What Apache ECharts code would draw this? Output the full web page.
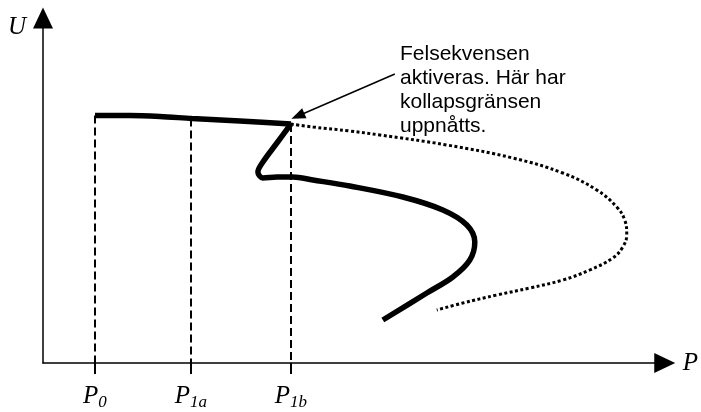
<!DOCTYPE html>
<html>
<head>
<meta charset="utf-8">
<script src="https://cdn.jsdelivr.net/npm/echarts@6/dist/echarts.min.js"></script>
<style>
  html, body { margin: 0; padding: 0; background: #fff; }
  #chart { width: 701px; height: 412px; }
</style>
</head>
<body>
<div id="chart"></div>
<script>
// schematic P-U curve, values in axis units
const pTicks = [52, 148, 248];
const pTickSubs = ['0', '1a', '1b'];
const guideTopU = [247.5, 244.5, 239];

const topBranchP = [52, 87, 117, 149, 197, 248];
const topBranchU = [247.5, 247.5, 246.5, 244.5, 242, 239];

const lowBranchP = [248, 234, 220, 215, 220, 234, 250, 270, 307, 360, 400, 424, 432, 427, 410, 384, 340];
const lowBranchU = [239, 220, 201, 191, 185, 186, 186, 183, 177, 166, 153, 138, 121, 103, 86, 70, 43];

const unstableP = [248, 270, 307, 337, 404, 470, 520, 554, 574, 582, 584, 580, 570, 547, 520, 487, 454, 420, 394];
const unstableU = [239, 236, 232, 228, 218, 205, 190, 173, 156, 143, 128, 116, 105, 93, 83, 75, 68, 60, 53];

const noteLines = ['Felsekvensen', 'aktiveras. Här har', 'kollapsgränsen', 'uppnåtts.'];
const noteFrom = [352, 289];
const noteTo = [255, 247];

const zip = (xs, ys) => xs.map((x, i) => [x, ys[i]]);

const serif = 'Liberation Serif';
const chart = echarts.init(document.getElementById('chart'));

const option = {
  animation: false,
  backgroundColor: '#fff',
  grid: { left: 43, right: 36, top: 18, bottom: 49 },
  xAxis: {
    type: 'value',
    min: 0,
    max: 622,
    name: 'P',
    nameLocation: 'end',
    nameGap: 18,
    nameTextStyle: {
      fontFamily: serif, fontStyle: 'italic', fontSize: 25, color: '#000',
      align: 'left', verticalAlign: 'middle', padding: [10, 0, 0, 0]
    },
    axisLine: {
      show: true,
      symbol: ['none', 'triangle'],
      symbolSize: [20, 21],
      lineStyle: { color: '#000', width: 1.5 }
    },
    axisTick: {
      show: true,
      customValues: pTicks,
      length: 11,
      lineStyle: { color: '#000', width: 2 }
    },
    axisLabel: {
      show: true,
      customValues: pTicks,
      margin: 18,
      formatter: function (v) {
        const i = pTicks.indexOf(v);
        return i < 0 ? '' : '{p|P}{s|' + pTickSubs[i] + '}';
      },
      rich: {
        p: { fontFamily: serif, fontStyle: 'italic', fontSize: 25, lineHeight: 30, color: '#000' },
        s: { fontFamily: serif, fontStyle: 'italic', fontSize: 17, lineHeight: 17, verticalAlign: 'bottom', color: '#000' }
      }
    },
    splitLine: { show: false }
  },
  yAxis: {
    type: 'value',
    min: 0,
    max: 345,
    name: 'U',
    nameLocation: 'end',
    nameGap: -9,
    nameTextStyle: {
      fontFamily: serif, fontStyle: 'italic', fontSize: 25, color: '#000',
      align: 'right', verticalAlign: 'middle', padding: [0, 17, 0, 0]
    },
    axisLine: {
      show: true,
      symbol: ['none', 'triangle'],
      symbolSize: [20, 21],
      lineStyle: { color: '#000', width: 1.5 }
    },
    axisTick: { show: false },
    axisLabel: { show: false },
    splitLine: { show: false }
  },
  series: [
    {
      type: 'line',
      name: 'guides',
      data: [],
      markLine: {
        silent: true,
        symbol: ['none', 'none'],
        label: { show: false },
        lineStyle: { color: '#000', width: 2, type: [8, 4] },
        data: pTicks.map((p, i) => [{ coord: [p, guideTopU[i]] }, { coord: [p, 0] }])
      }
    },
    {
      type: 'line',
      name: 'unstable',
      data: zip(unstableP, unstableU),
      smooth: 0.4,
      showSymbol: false,
      lineStyle: { color: '#000', width: 3, type: [3, 2.5], cap: 'butt' },
      markLine: {
        silent: true,
        symbol: ['none', 'triangle'],
        symbolSize: [11, 14],
        label: { show: false },
        lineStyle: { color: '#000', width: 1.5, type: 'solid' },
        data: [[{ coord: noteFrom }, { coord: noteTo }]]
      }
    },
    {
      type: 'line',
      name: 'top',
      data: zip(topBranchP, topBranchU),
      smooth: 0.3,
      showSymbol: false,
      lineStyle: { color: '#000', width: 5.5, cap: 'butt' }
    },
    {
      type: 'line',
      name: 'low',
      data: zip(lowBranchP, lowBranchU),
      smooth: 0.35,
      showSymbol: false,
      lineStyle: { color: '#000', width: 5.5, cap: 'butt', join: 'round' }
    }
  ],
  graphic: [
    {
      type: 'text',
      x: 400,
      y: 42,
      silent: true,
      style: {
        text: noteLines.join('\n'),
        fill: '#000',
        font: '21px "Liberation Sans", Arial, sans-serif',
        lineHeight: 24
      }
    }
  ]
};

chart.setOption(option);
</script>
</body>
</html>
